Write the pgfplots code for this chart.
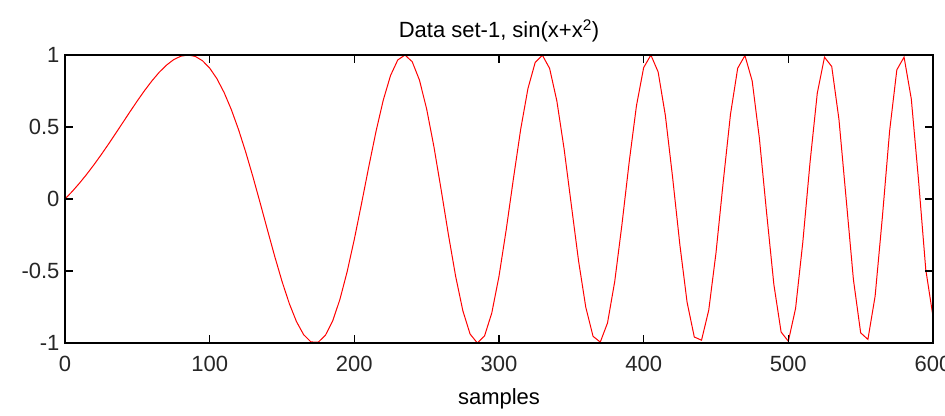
\documentclass[border=0pt]{standalone}
\usepackage{pgfplots}
\pgfplotsset{compat=1.18}
\usepackage{fontspec}
\setmainfont{Liberation Sans}
\begin{document}
\begin{tikzpicture}
\path[use as bounding box] (-65pt,-72pt) rectangle (880pt,343pt);
\begin{axis}[
  overlay,
  at={(0pt,0pt)}, anchor=south west,
  scale only axis,
  width=868pt, height=288pt,
  xmin=0, xmax=600, ymin=-1, ymax=1,
  xtick={0,100,...,600}, ytick={-1,-0.5,0,0.5,1},
  yticklabels={-1,-0.5,0,0.5,1},
  axis on top,
  tick align=inside,
  xtick pos=both, ytick pos=both,
  major tick length=8pt,
  major tick style={draw=black, line width=1.2pt},
  axis line style={black, line width=1.2pt},
  /pgf/number format/assume math mode=true,
  tick label style={font=\fontsize{22}{25}\selectfont, text=black!85},
  yticklabel style={xshift=-2pt},
  xticklabel style={yshift=-10pt},
  title={Data set-1, sin(x+x\textsuperscript{2})},
  title style={font=\fontsize{22}{25}\selectfont, yshift=3pt},
  xlabel={samples},
  xlabel style={font=\fontsize{22}{25}\selectfont, yshift=-10pt},
]
\addplot[red, line width=1pt] table {
s y
0 0
5 0.0525
10 0.1098
15 0.1716
20 0.2377
25 0.3074
30 0.3802
35 0.4552
40 0.5312
45 0.6072
50 0.6816
55 0.7530
60 0.8192
65 0.8785
70 0.9284
75 0.9670
80 0.9915
85 1.0000
90 0.9904
95 0.9605
100 0.9093
105 0.8357
110 0.7390
115 0.6203
120 0.4808
125 0.3232
130 0.1510
135 -0.0309
140 -0.2167
145 -0.3995
150 -0.5716
155 -0.7248
160 -0.8513
165 -0.9427
170 -0.9924
175 -0.9949
180 -0.9466
185 -0.8475
190 -0.6983
195 -0.5061
200 -0.2794
205 -0.0307
210 0.2249
215 0.4700
220 0.6866
225 0.8568
230 0.9653
235 0.9998
240 0.9535
245 0.8262
250 0.6247
255 0.3638
260 0.0648
265 -0.2452
270 -0.5355
275 -0.7756
280 -0.9375
285 -0.9997
290 -0.9510
295 -0.7920
300 -0.5366
305 -0.2123
310 0.1431
315 0.4848
320 0.7666
325 0.9477
330 0.9985
335 0.9066
340 0.6802
345 0.3481
350 -0.0420
355 -0.4300
360 -0.7526
365 -0.9534
370 -0.9937
375 -0.8611
380 -0.5726
385 -0.1762
390 0.2575
395 0.6464
400 0.9128
405 0.9995
410 0.8822
415 0.5799
420 0.1506
425 -0.3158
430 -0.7165
435 -0.9584
440 -0.9806
445 -0.7710
450 -0.3735
455 0.1195
460 0.5870
465 0.9085
470 0.9964
475 0.8204
480 0.4208
485 -0.0980
490 -0.5937
495 -0.9237
500 -0.9880
505 -0.7602
510 -0.3011
515 0.2538
520 0.7338
525 0.9849
530 0.9199
535 0.5522
540 -0.0025
545 -0.5605
550 -0.9293
555 -0.9751
560 -0.6736
565 -0.1263
570 0.4714
575 0.8971
580 0.9856
585 0.6948
590 0.1303
595 -0.4898
600 -0.8165
};
\end{axis}
\end{tikzpicture}
\end{document}
